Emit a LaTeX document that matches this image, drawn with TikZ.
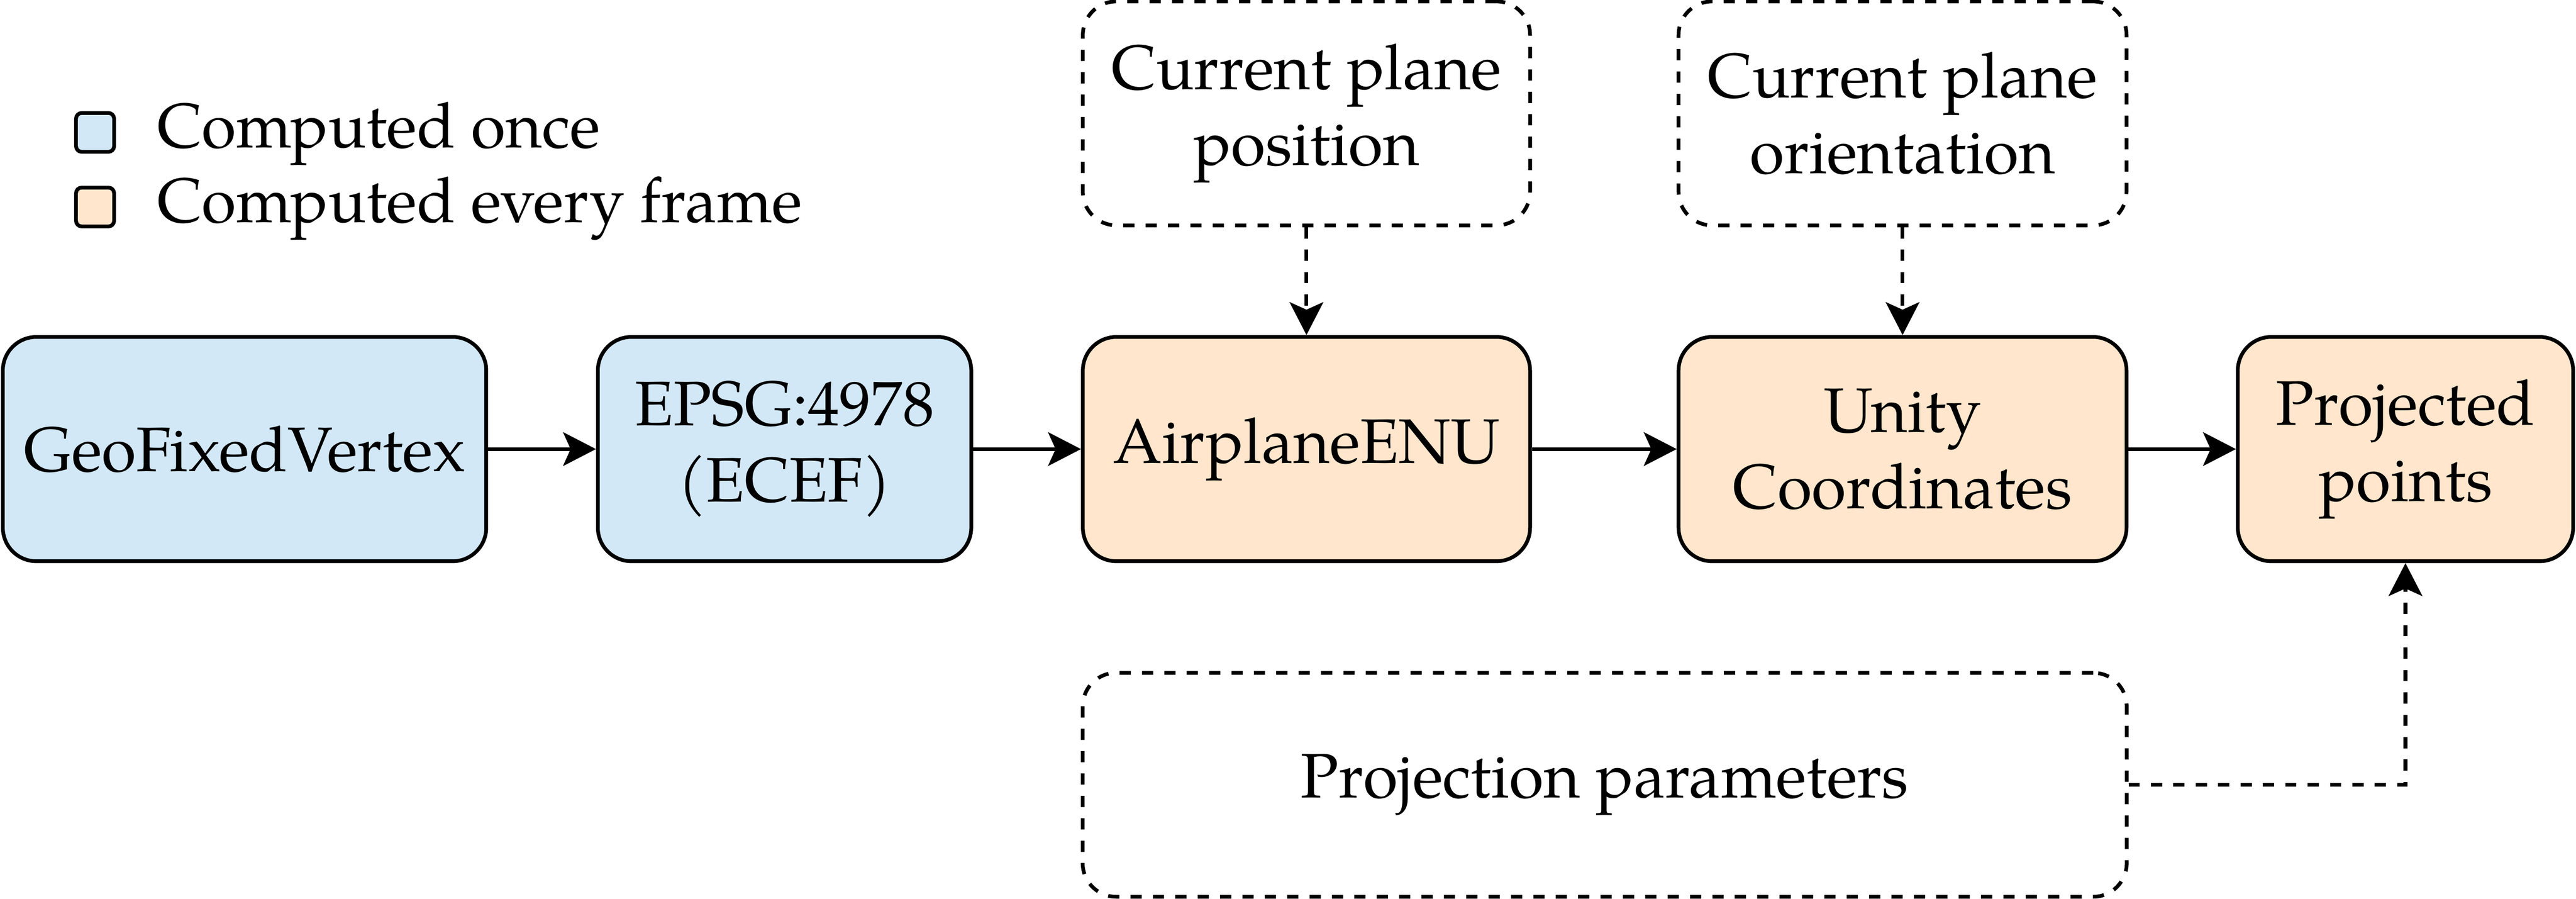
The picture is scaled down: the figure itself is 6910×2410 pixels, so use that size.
\documentclass[tikz,border=0pt]{standalone}
\usepackage{fontspec}
\setmainfont{TeX Gyre Pagella}
\usetikzlibrary{arrows.meta}
\definecolor{onceblue}{HTML}{D2E8F7}
\definecolor{frameorange}{HTML}{FFE6CC}
\begin{document}
\begin{tikzpicture}[x=0.01cm,y=-0.01cm,
  every node/.style={font=\fontsize{48}{58}\selectfont},
  box/.style={draw, line width=0.1cm, rounded corners=0.9cm, minimum height=6.01cm, align=center, inner sep=0pt},
  oncebox/.style={box, fill=onceblue},
  framebox/.style={box, fill=frameorange},
  inputbox/.style={box, dash pattern=on 0.3cm off 0.3cm, minimum height=6cm},
  legsq/.style={draw, line width=0.1cm, rounded corners=0.15cm, minimum width=1.02cm, minimum height=1.04cm, inner sep=0pt},
  tip/.style={-{Stealth[length=0.88cm, width=0.9cm, inset=0.2cm]}},
  flow/.style={tip, line width=0.1cm},
  dflow/.style={tip, line width=0.1cm, dash pattern=on 0.3cm off 0.3cm}]
\useasboundingbox (0,0) rectangle (6910,2410);
% legend
\node[legsq, fill=onceblue] (lg1) at (255,355) {};
\node[legsq, fill=frameorange] (lg2) at (255,555) {};
\node[anchor=base west, inner sep=0pt] (lt1) at (421,396) {Computed once};
\node[anchor=base west, inner sep=0pt] (lt2) at (421,597) {Computed every frame};
% main row
\node[oncebox, minimum width=12.96cm] (geo) at (656,1204) {GeoFixedVertex};
\node[oncebox, minimum width=10.01cm] (epsg) at (2104.5,1204) {EPSG:4978\\(ECEF)};
\node[framebox, minimum width=11.99cm] (enu) at (3504.5,1204) {AirplaneENU};
\node[framebox, minimum width=12.01cm] (unity) at (5103.5,1204) {Unity\\Coordinates};
\node[framebox, minimum width=8.99cm] (proj) at (6452.5,1204) {Projected\\points};
% inputs
\node[inputbox, minimum width=11.99cm] (pos) at (3504.5,304) {Current plane\\position};
\node[inputbox, minimum width=12.01cm] (ori) at (5103.5,304) {Current plane\\orientation};
\node[inputbox, minimum width=27.99cm] (params) at (4304.5,2104) {Projection parameters};
% connectors
\draw[flow] (geo) -- (epsg);
\draw[flow] (epsg) -- (enu);
\draw[flow] (enu) -- (unity);
\draw[flow] (unity) -- (proj);
\draw[dflow] (pos) -- (enu);
\draw[dflow] (ori) -- (unity);
\draw[dflow] (params.east) -| (proj.south);
\end{tikzpicture}
\end{document}
